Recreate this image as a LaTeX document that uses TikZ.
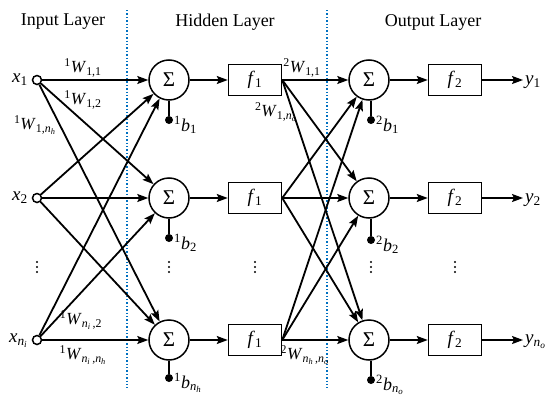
\documentclass[tikz,border=0pt]{standalone}
\usepackage{fontspec}
\setmainfont{Liberation Serif}
\usetikzlibrary{arrows.meta}
\newcommand\wl[3]{\textsuperscript{#1}\textit{#2}\textsubscript{#3}}
\definecolor{sepblue}{RGB}{0,112,192}
\begin{document}
\begin{tikzpicture}[x=1pt,y=-1pt,
  inp/.style={circle,draw,line width=1.5pt,minimum size=9pt,inner sep=0},
  sumn/.style={circle,draw,line width=1.5pt,minimum size=40pt,inner sep=0,font=\fontsize{21}{21}\selectfont},
  fbox/.style={draw,line width=1.5pt,minimum width=53pt,minimum height=31pt,inner sep=0,font=\fontsize{19}{19}\selectfont},
  bdot/.style={circle,fill,minimum size=8pt,inner sep=0},
  smalldot/.style={circle,fill,minimum size=2.2pt,inner sep=0},
  conn/.style={line width=1.8pt,-{Stealth[length=11pt,width=8pt,inset=2pt]}},
  plainln/.style={line width=1.8pt},
  sepln/.style={sepblue,dotted,line width=1.4pt},
  title/.style={font=\fontsize{18}{18}\selectfont,inner sep=0},
  wlab/.style={font=\fontsize{17}{17}\selectfont,inner sep=0},
  xlab/.style={font=\fontsize{19}{19}\selectfont,inner sep=0},
  blab/.style={font=\fontsize{18}{18}\selectfont,inner sep=0,anchor=west}
]
\useasboundingbox (0,0) rectangle (550,407);

% titles
\node[title] (tin) at (63,22) {Input Layer};
\node[title] (thid) at (225,22) {Hidden Layer};
\node[title] (tout) at (433,22) {Output Layer};

% separators
\coordinate (sa1) at (127,10); \coordinate (sa2) at (127,388);
\coordinate (sb1) at (327,10); \coordinate (sb2) at (327,388);
\draw[sepln] (sa1) -- (sa2);
\draw[sepln] (sb1) -- (sb2);

% inputs
\node[inp] (in1) at (37,80) {};
\node[inp] (in2) at (37,198) {};
\node[inp] (in3) at (37,340) {};
\node[xlab,anchor=east] (xl1) at (28,80) {\textit{x}\textsubscript{1}};
\node[xlab,anchor=east] (xl2) at (28,198) {\textit{x}\textsubscript{2}};
\node[xlab,anchor=east] (xl3) at (28,341) {\textit{x}\textsubscript{\textit{n}\textsubscript{\textit{i}}}};

% hidden sums
\node[sumn] (s1) at (169,80) {Σ};
\node[sumn] (s2) at (169,198) {Σ};
\node[sumn] (s3) at (169,340) {Σ};

% hidden activation
\node[fbox] (f1) at (255,80) {\textit{f}\textsubscript{1}};
\node[fbox] (f2) at (255,198) {\textit{f}\textsubscript{1}};
\node[fbox] (f3) at (255,340) {\textit{f}\textsubscript{1}};

% output sums
\node[sumn] (t1) at (369,80) {Σ};
\node[sumn] (t2) at (369,198) {Σ};
\node[sumn] (t3) at (369,340) {Σ};

% output activation
\node[fbox] (g1) at (455,80) {\textit{f}\textsubscript{2}};
\node[fbox] (g2) at (455,198) {\textit{f}\textsubscript{2}};
\node[fbox] (g3) at (455,340) {\textit{f}\textsubscript{2}};

% outputs
\coordinate (o1) at (523,80);
\coordinate (o2) at (523,198);
\coordinate (o3) at (523,340);
\node[xlab,anchor=west] (yl1) at (525,82) {\textit{y}\textsubscript{1}};
\node[xlab,anchor=west] (yl2) at (525,200) {\textit{y}\textsubscript{2}};
\node[xlab,anchor=west] (yl3) at (525,342) {\textit{y}\textsubscript{\textit{n}\textsubscript{\textit{o}}}};

% biases
\node[bdot] (b1) at (169,120) {};
\node[bdot] (b2) at (169,238) {};
\node[bdot] (b3) at (169,378) {};
\node[bdot] (c1) at (371,120) {};
\node[bdot] (c2) at (371,240) {};
\node[bdot] (c3) at (371,380) {};
\draw[plainln] (s1.south) -- (b1);
\draw[plainln] (s2.south) -- (b2);
\draw[plainln] (s3.south) -- (b3);
\draw[plainln] (t1.south -| c1) -- (c1);
\draw[plainln] (t2.south -| c2) -- (c2);
\draw[plainln] (t3.south -| c3) -- (c3);
\node[blab] (bl1) at (174,125) {\textsuperscript{1}\textit{b}\textsubscript{1}};
\node[blab] (bl2) at (174,243) {\textsuperscript{1}\textit{b}\textsubscript{2}};
\node[blab] (bl3) at (174,383) {\textsuperscript{1}\textit{b}\textsubscript{\textit{n}\textsubscript{\textit{h}}}};
\node[blab] (cl1) at (376,125) {\textsuperscript{2}\textit{b}\textsubscript{1}};
\node[blab] (cl2) at (376,245) {\textsuperscript{2}\textit{b}\textsubscript{2}};
\node[blab] (cl3) at (376,385) {\textsuperscript{2}\textit{b}\textsubscript{\textit{n}\textsubscript{\textit{o}}}};

% connections
\foreach \i in {1,2,3} {
  \foreach \j in {1,2,3} {
    \draw[conn] (in\i) -- (s\j);
  }
  \draw[conn] (s\i) -- (f\i);
  \foreach \j in {1,2,3} {
    \draw[conn] (f\i.east) -- (t\j);
  }
  \draw[conn] (t\i) -- (g\i);
  \draw[conn] (g\i) -- (o\i);
}

% weight labels
\node[wlab] (w11) at (83,68) {\wl{1}{W}{1,1}};
\node[wlab] (w12) at (83,100) {\wl{1}{W}{1,2}};
\node[wlab] (w1h) at (35,125) {\wl{1}{W}{1,\textit{n}\textsubscript{\textit{h}}}};
\node[wlab] (wi2) at (81,320) {\wl{1}{W}{\textit{n}\textsubscript{\textit{i}}\,,2}};
\node[wlab] (wih) at (83,355) {\wl{1}{W}{\textit{n}\textsubscript{\textit{i}}\,,\textit{n}\textsubscript{\textit{h}}}};
\node[wlab] (v11) at (302,68) {\wl{2}{W}{1,1}};
\node[wlab] (v1o) at (276,112) {\wl{2}{W}{1,\textit{n}\textsubscript{\textit{o}}}};
\node[wlab] (vho) at (305,355) {\wl{2}{W}{\textit{n}\textsubscript{\textit{h}}\,,\textit{n}\textsubscript{\textit{o}}}};

% vertical dots
\foreach \px/\nm in {37/d1,169/d2,255/d3,371/d4,455/d5} {
  \node[smalldot] (\nm a) at (\px,262) {};
  \node[smalldot] (\nm b) at (\px,267) {};
  \node[smalldot] (\nm c) at (\px,272) {};
}
\end{tikzpicture}
\end{document}
